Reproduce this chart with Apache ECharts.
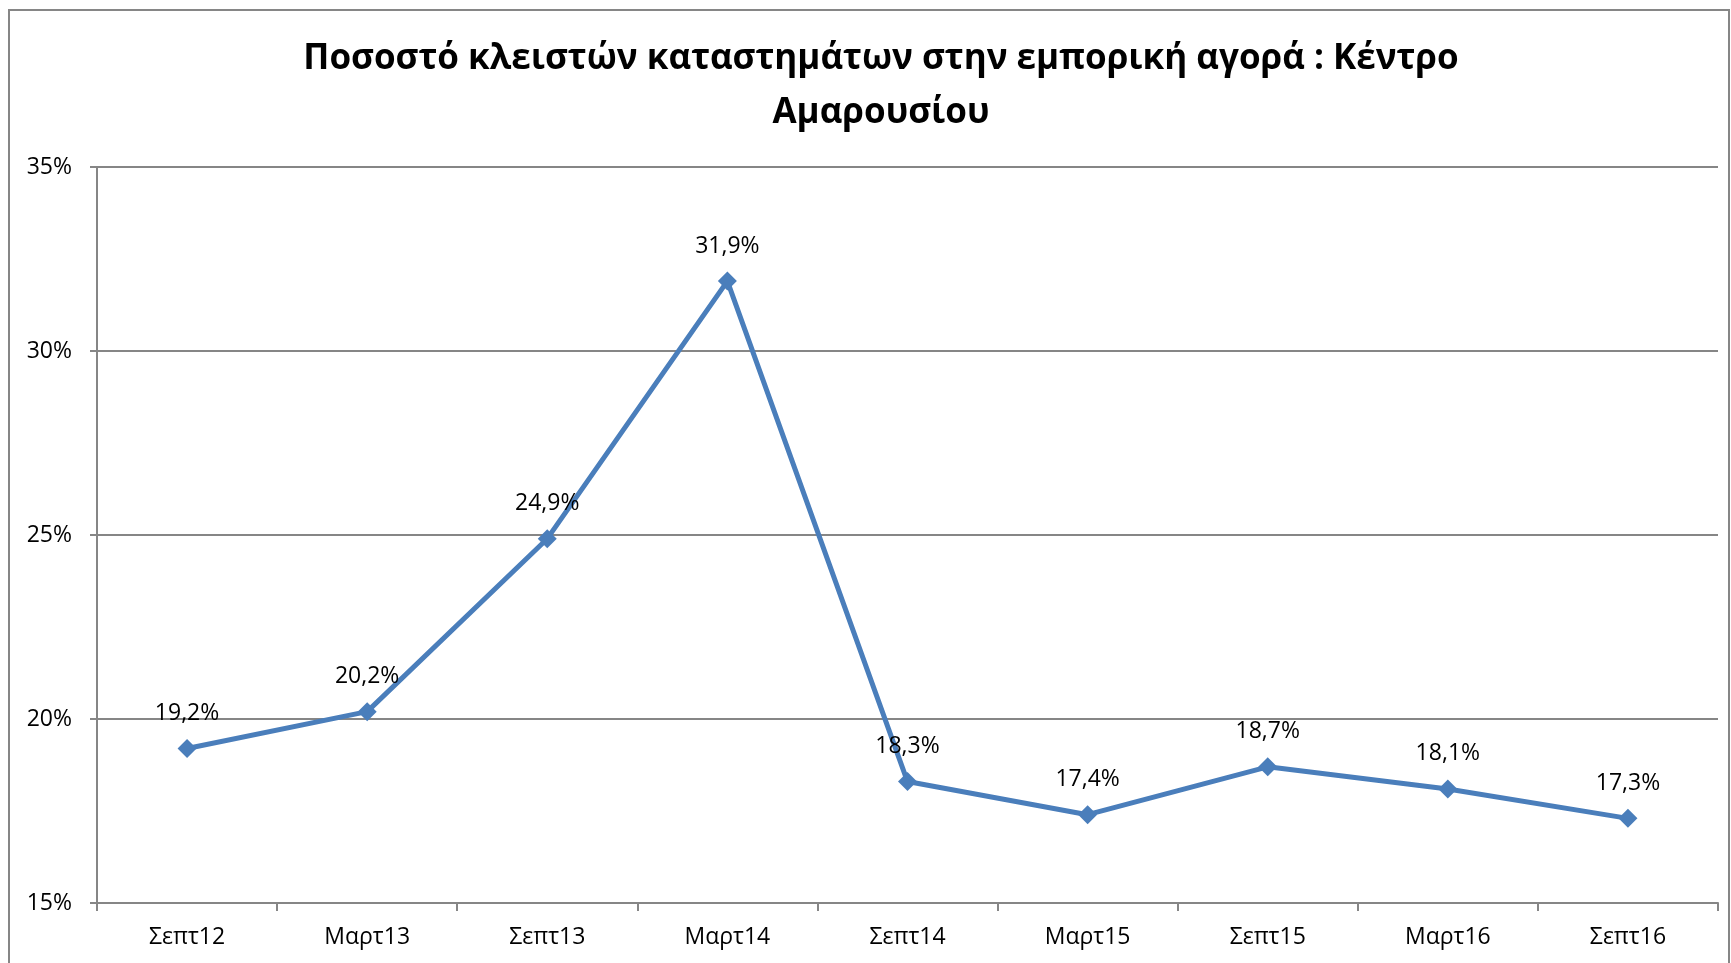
<!DOCTYPE html>
<html>
<head>
<meta charset="utf-8">
<title>Ποσοστό κλειστών καταστημάτων</title>
<script src="https://cdn.jsdelivr.net/npm/echarts@6/dist/echarts.min.js"></script>
<style>
    html, body { margin: 0; padding: 0; background: #fff; }
    #chart { width: 1731px; height: 963px; }
</style>
</head>
<body>
<div id="chart"></div>
<script>
// data
var periods = ['Σεπτ12', 'Μαρτ13', 'Σεπτ13', 'Μαρτ14', 'Σεπτ14', 'Μαρτ15', 'Σεπτ15', 'Μαρτ16', 'Σεπτ16'];
var closedShare = [19.2, 20.2, 24.9, 31.9, 18.3, 17.4, 18.7, 18.1, 17.3];
var yTicks = [15, 20, 25, 30, 35];

var font = '"Open Sans", "Noto Sans", sans-serif';
var grey = '#868686';

var chart = echarts.init(document.getElementById('chart'));
var option = {
    backgroundColor: '#fff',
    animation: false,
    title: {
        text: 'Ποσοστό κλειστών καταστημάτων στην εμπορική αγορά : Κέντρο\nΑμαρουσίου',
        left: 876,
        top: 27,
        textAlign: 'center',
        textStyle: {
            fontFamily: font,
            fontWeight: 'bold',
            fontSize: 35,
            lineHeight: 54,
            color: '#000'
        }
    },
    graphic: [{
        type: 'rect',
        shape: { x: 9, y: 10, width: 1720, height: 1000 },
        style: { fill: 'none', stroke: grey, lineWidth: 2 },
        silent: true
    }],
    grid: { left: 97, right: 13, top: 167, bottom: 60 },
    xAxis: {
        type: 'category',
        data: periods,
        boundaryGap: true,
        axisLine: { lineStyle: { color: grey, width: 2 } },
        axisTick: { show: true, interval: 0, length: 8, lineStyle: { color: grey, width: 2 } },
        axisLabel: {
            interval: 0,
            margin: 23,
            fontFamily: font,
            fontSize: 23,
            color: '#000'
        },
        splitLine: { show: false }
    },
    yAxis: {
        type: 'value',
        min: yTicks[0],
        max: yTicks[yTicks.length - 1],
        interval: 5,
        axisLine: { show: true, lineStyle: { color: grey, width: 2 } },
        axisTick: { show: true, length: 7, lineStyle: { color: grey, width: 2 } },
        axisLabel: {
            margin: 25,
            fontFamily: font,
            fontSize: 23,
            color: '#000',
            formatter: '{value}%'
        },
        splitLine: { show: true, lineStyle: { color: grey, width: 2 } }
    },
    series: [{
        type: 'line',
        data: closedShare,
        symbol: 'diamond',
        symbolSize: 19,
        lineStyle: { color: '#4A7EBB', width: 5 },
        itemStyle: { color: '#4A7EBB' },
        label: {
            show: true,
            position: 'top',
            distance: 14,
            fontFamily: font,
            fontSize: 23,
            color: '#000',
            formatter: function (p) {
                return p.value.toFixed(1).replace('.', ',') + '%';
            }
        }
    }]
};
chart.setOption(option);
</script>
</body>
</html>
